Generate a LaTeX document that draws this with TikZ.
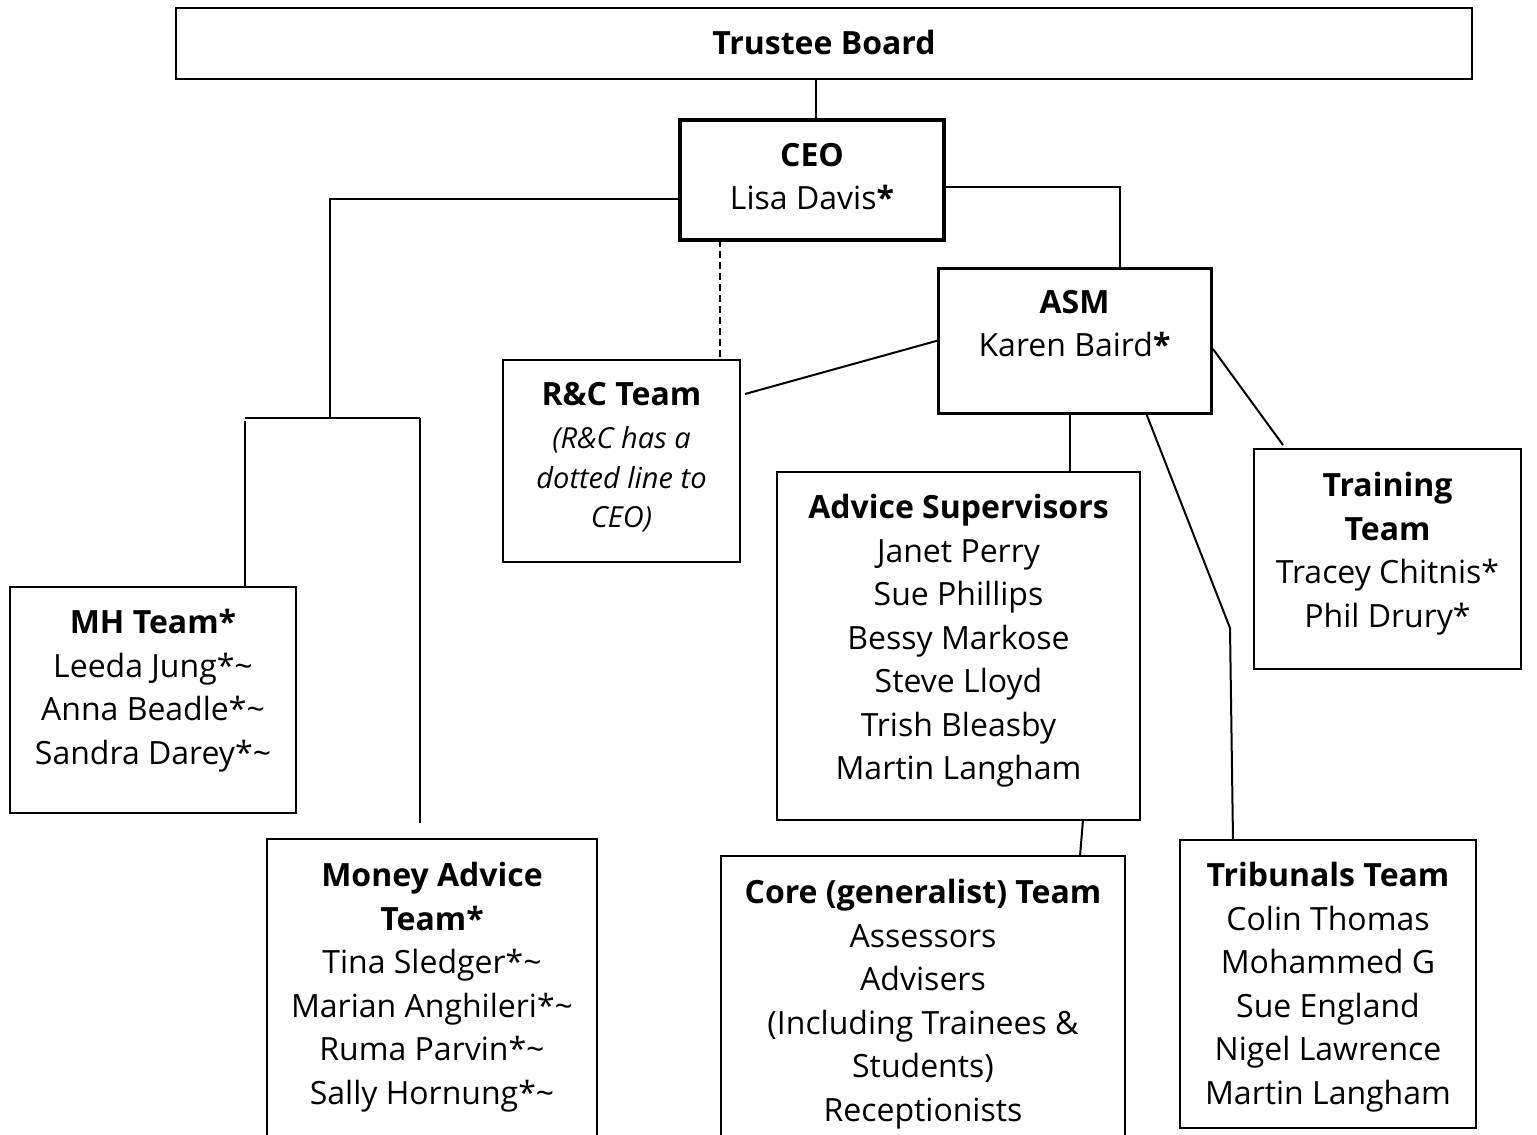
\documentclass[tikz,border=0pt]{standalone}
\usepackage{fontspec}
\setmainfont{Open Sans}
\usetikzlibrary{positioning}
\tikzset{
  teambox/.style={draw,line width=2pt,inner sep=0pt,outer sep=0pt,anchor=north west},
  teamtext/.style={align=center,inner sep=0pt,font=\fontsize{32}{43.5}\selectfont},
  wire/.style={line width=2pt},
  dotwire/.style={line width=1.6pt,dash pattern=on 7pt off 4pt},
}
% [box style] name, left, top, width, height, text offset, text
\newcommand{\team}[8][]{%
  \node[teambox,#1,minimum width=#5,minimum height=#6] (#2) at (#3,#4) {};
  \node[teamtext,below=#7pt of #2.north] (#2-txt) {#8};
}
\newcommand{\rcnote}[1]{{\fontsize{29}{39.5}\selectfont\itshape #1}}

\begin{document}
\begin{tikzpicture}[x=1pt,y=-1pt]
  \useasboundingbox (0,0) rectangle (1537,1135);
  \team[line width=2.5pt]{trustee}{176}{8}{1296}{71}{22}{\textbf{Trustee Board}}
  \team[line width=3.5pt]{ceo}{680}{120}{264}{120}{23}{\textbf{CEO}\\Lisa Davis\textbf{*}}
  \team[line width=3pt]{asm}{938}{268}{273}{145}{22}{\textbf{ASM}\\Karen Baird\textbf{*}}
  \team{rc}{503}{360}{237}{202}{22}{\textbf{R\&C Team}\\\rcnote{(R\&C has a}\\[-4pt]
    \rcnote{dotted line to}\\[-4pt]\rcnote{CEO)}}
  \team{mh}{10}{587}{286}{226}{22}{\textbf{MH Team*}\\Leeda Jung*\textasciitilde\\
    Anna Beadle*\textasciitilde\\Sandra Darey*\textasciitilde}
  \team{money}{267}{839}{330}{320}{23}{\textbf{Money Advice}\\\textbf{Team*}\\
    Tina Sledger*\textasciitilde\\Marian Anghileri*\textasciitilde\\
    Ruma Parvin*\textasciitilde\\Sally Hornung*\textasciitilde}
  \team{adv}{777}{472}{363}{348}{22}{\textbf{Advice Supervisors}\\Janet Perry\\
    Sue Phillips\\Bessy Markose\\Steve Lloyd\\Trish Bleasby\\Martin Langham}
  \team{core}{721}{856}{404}{300}{23}{\textbf{Core (generalist) Team}\\Assessors\\
    Advisers\\(Including Trainees \&\\Students)\\Receptionists}
  \team{train}{1254}{449}{267}{220}{23}{\textbf{Training}\\\textbf{Team}\\
    Tracey Chitnis*\\Phil Drury*}
  \team{trib}{1180}{840}{296}{288}{22}{\textbf{Tribunals Team}\\Colin Thomas\\
    Mohammed G\\Sue England\\Nigel Lawrence\\Martin Langham}

  % bends and free ends
  \coordinate (mhsplit) at (330,418);
  \coordinate (mhleft) at (245,418);
  \coordinate (maright) at (420,418);
  \coordinate (tribbend) at (1230,628);

  \draw[wire] ([xshift=4pt]ceo.north) -- ([xshift=4pt]ceo.north |- trustee.south);
  \draw[wire] ([yshift=-19pt]ceo.west) -| (mhsplit);
  \draw[wire] (mhleft) -- (maright);
  \draw[wire] ([yshift=-3pt]mhleft) -- (mhleft |- mh.north);
  \draw[wire] (maright) -- ([yshift=16pt]maright |- money.north);
  \draw[wire] ([yshift=-7pt]ceo.east) -| ([xshift=45pt]asm.north);
  \draw[dotwire] ([xshift=-92pt]ceo.south) -- ([xshift=-92pt]ceo.south |- rc.north);
  \draw[wire] (asm.west) -- ([xshift=5pt,yshift=67pt]rc.east);
  \draw[wire] ([xshift=-4.5pt]asm.south) -- ([xshift=-4.5pt]asm.south |- adv.north);
  \draw[wire] ([xshift=2pt,yshift=-8.5pt]asm.east) -- ([xshift=-104.5pt,yshift=4pt]train.north);
  \draw[wire] ([xshift=71.5pt]asm.south) -- (tribbend) -- ([xshift=-95pt]trib.north);
  \draw[wire] ([xshift=124.5pt]adv.south) -- ([xshift=157pt]core.north);
\end{tikzpicture}
\end{document}
